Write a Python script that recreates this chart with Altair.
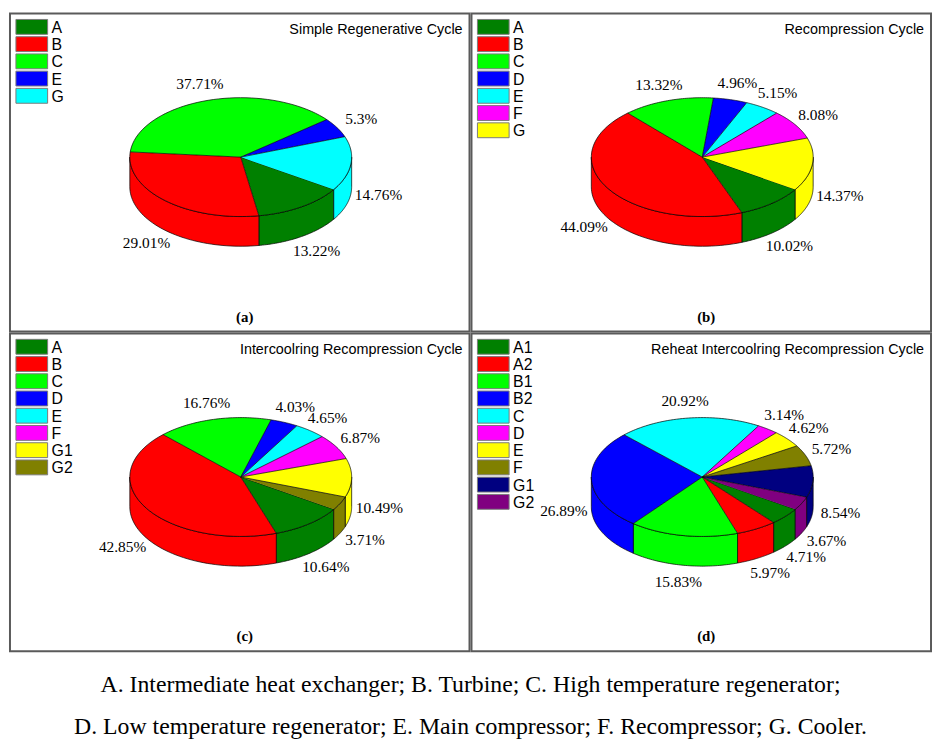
import math
import altair as alt
import pandas as pd

# ---- data ----
a_cats = ["A", "B", "C", "E", "G"]
a_vals = [13.22, 29.01, 37.71, 5.3, 14.76]
b_cats = ["A", "B", "C", "D", "E", "F", "G"]
b_vals = [10.02, 44.09, 13.32, 4.96, 5.15, 8.08, 14.37]
c_cats = ["A", "B", "C", "D", "E", "F", "G1", "G2"]
c_vals = [10.64, 42.85, 16.76, 4.03, 4.65, 6.87, 10.49, 3.71]
d_cats = ["A1", "A2", "B1", "B2", "C", "D", "E", "F", "G1", "G2"]
d_vals = [4.71, 5.97, 15.83, 26.89, 20.92, 3.14, 4.62, 5.72, 8.54, 3.67]
titles = ["Simple Regenerative Cycle", "Recompression Cycle",
          "Intercoolring Recompression Cycle",
          "Reheat Intercoolring Recompression Cycle"]
tags = ["(a)", "(b)", "(c)", "(d)"]
palette = ["#008000", "#FF0000", "#00FF00", "#0000FF", "#00FFFF",
           "#FF00FF", "#FFFF00", "#808000", "#000080", "#800080"]
caption = ["A. Intermediate heat exchanger; B. Turbine; C. High temperature regenerator;",
           "D. Low temperature regenerator; E. Main compressor; F. Recompressor; G. Cooler."]

# ---- geometry / style ----
W, H = 464, 321
CX, CY = 233, 145
RX, RY, DEPTH = 112, 60, 30
LX, LY = 140, 77
OFF = math.radians(123)
TAU = 2 * math.pi
PI = math.pi
K = 48
# legend block layout (pixels inside a panel)
LEG_X, LEG_Y, LEG_W, LEG_H, LEG_STEP = 6, 6, 32, 15, 17.4
SERIF = "Liberation Serif"
SANS = "Liberation Sans"


def panel(cats, vals, title, tag):
    n = len(cats)
    base = pd.DataFrame({"cat": cats, "val": vals, "idx": list(range(n))})
    xs = alt.Scale(domain=[-CX, W - CX])
    ys = alt.Scale(domain=[-CY, H - CY], reverse=True)
    fill = alt.Fill("cat:N", scale=alt.Scale(domain=cats, range=palette[:n]),
                    sort=cats, legend=None)
    X = lambda f: alt.X(f, scale=xs, axis=None)
    Y = lambda f: alt.Y(f, scale=ys, axis=None)

    def prep(df):
        return (alt.Chart(df)
                .transform_joinaggregate(total="sum(val)")
                .transform_window(cum="sum(val)", sort=[alt.SortField("idx")],
                                  frame=[None, 0])
                .transform_calculate(
                    a0=f"{OFF} + (datum.cum - datum.val) / datum.total * {TAU}",
                    a1=f"{OFF} + datum.cum / datum.total * {TAU}"))

    # side walls (front half only)
    wdf = base.copy()
    wdf["k"] = [list(range(0, 2 * K + 3))] * n
    walls = (prep(wdf)
             .transform_calculate(
                 lo=f"max(datum.a0, datum.a1 > {2.5 * PI} ? {2.5 * PI} : {0.5 * PI})",
                 hi=f"min(datum.a1, datum.a1 > {2.5 * PI} ? {3.5 * PI} : {1.5 * PI})")
             .transform_filter("datum.hi > datum.lo")
             .transform_flatten(["k"])
             .transform_calculate(
                 t=f"datum.k <= {K} ? datum.k / {K} : (datum.k <= {2 * K + 1} ? ({2 * K + 1} - datum.k) / {K} : 0)")
             .transform_calculate(ang="datum.lo + (datum.hi - datum.lo) * datum.t")
             .transform_calculate(
                 x=f"{RX} * sin(datum.ang)",
                 y=f"-{RY} * cos(datum.ang) + ((datum.k > {K} && datum.k <= {2 * K + 1}) ? {DEPTH} : 0)")
             .mark_line(stroke="black", strokeWidth=0.7, strokeJoin="round")
             .encode(x=X("x:Q"), y=Y("y:Q"), fill=fill, order=alt.Order("k:Q")))

    # top faces
    tdf = base.copy()
    tdf["k"] = [list(range(-1, K + 1))] * n
    tops = (prep(tdf)
            .transform_flatten(["k"])
            .transform_calculate(ang=f"datum.a0 + (datum.a1 - datum.a0) * max(datum.k, 0) / {K}")
            .transform_calculate(
                x=f"datum.k < 0 ? 0 : {RX} * sin(datum.ang)",
                y=f"datum.k < 0 ? 0 : -{RY} * cos(datum.ang)")
            .mark_line(stroke="black", strokeWidth=0.7, strokeJoin="round")
            .encode(x=X("x:Q"), y=Y("y:Q"), fill=fill, order=alt.Order("k:Q")))

    # percentage labels
    labels = (prep(base)
              .transform_calculate(mid="(datum.a0 + datum.a1) / 2")
              .transform_calculate(
                  x=f"{LX} * sin(datum.mid)",
                  y=f"-{LY} * cos(datum.mid) + (cos(datum.mid) < 0 ? {DEPTH} : 0)",
                  lab="datum.val + '%'")
              .mark_text(font=SERIF, fontSize=15.5, color="black", baseline="middle")
              .encode(x=X("x:Q"), y=Y("y:Q"), text="lab:N"))

    # legend block (swatches + names)
    leg = (alt.Chart(base)
           .transform_calculate(
               lx=f"{-CX + LEG_X}", lx2=f"{-CX + LEG_X + LEG_W}",
               ly=f"{-CY + LEG_Y} + datum.idx * {LEG_STEP}",
               ly2=f"{-CY + LEG_Y + LEG_H} + datum.idx * {LEG_STEP}",
               tx=f"{-CX + LEG_X + LEG_W + 4}",
               ty=f"{-CY + LEG_Y + LEG_H / 2} + datum.idx * {LEG_STEP}"))
    leg_rect = (leg.mark_rect(stroke="#7a7a7a", strokeWidth=1)
                .encode(x=X("lx:Q"), x2="lx2:Q", y=Y("ly:Q"), y2="ly2:Q", fill=fill))
    leg_text = (leg.mark_text(font=SANS, fontSize=16, color="black", align="left",
                              baseline="middle", dy=1)
                .encode(x=X("tx:Q"), y=Y("ty:Q"), text="cat:N"))

    ttl = (alt.Chart(pd.DataFrame({"t": [title]}))
           .mark_text(font=SANS, fontSize=14.5, color="black", align="right",
                      baseline="middle")
           .encode(x=alt.value(W - 7), y=alt.value(17), text="t:N"))
    tg = (alt.Chart(pd.DataFrame({"t": [tag]}))
          .mark_text(font=SERIF, fontSize=15, fontWeight="bold", color="black",
                     baseline="middle")
          .encode(x=alt.value(CX + 4), y=alt.value(306), text="t:N"))

    return (alt.layer(walls, tops, labels, leg_rect, leg_text, ttl, tg)
            .properties(width=W, height=H))


pa = panel(a_cats, a_vals, titles[0], tags[0])
pb = panel(b_cats, b_vals, titles[1], tags[1])
pc = panel(c_cats, c_vals, titles[2], tags[2])
pd_ = panel(d_cats, d_vals, titles[3], tags[3])

row1 = alt.hconcat(pa, pb, spacing=0).resolve_scale(fill="independent")
row2 = alt.hconcat(pc, pd_, spacing=0).resolve_scale(fill="independent")

chart = (alt.vconcat(row1, row2, spacing=0)
         .resolve_scale(fill="independent")
         .properties(
             title=alt.TitleParams(caption, orient="bottom", anchor="middle",
                                   font=SERIF, fontSize=24, fontWeight="normal",
                                   color="black", lineHeight=42, offset=21),
             padding={"left": 1, "top": 1, "right": 1, "bottom": 0})
         .configure_view(stroke="#5a5a5a", strokeWidth=2))

chart.save("out.html", embed_options={"renderer": "svg", "actions": False})
